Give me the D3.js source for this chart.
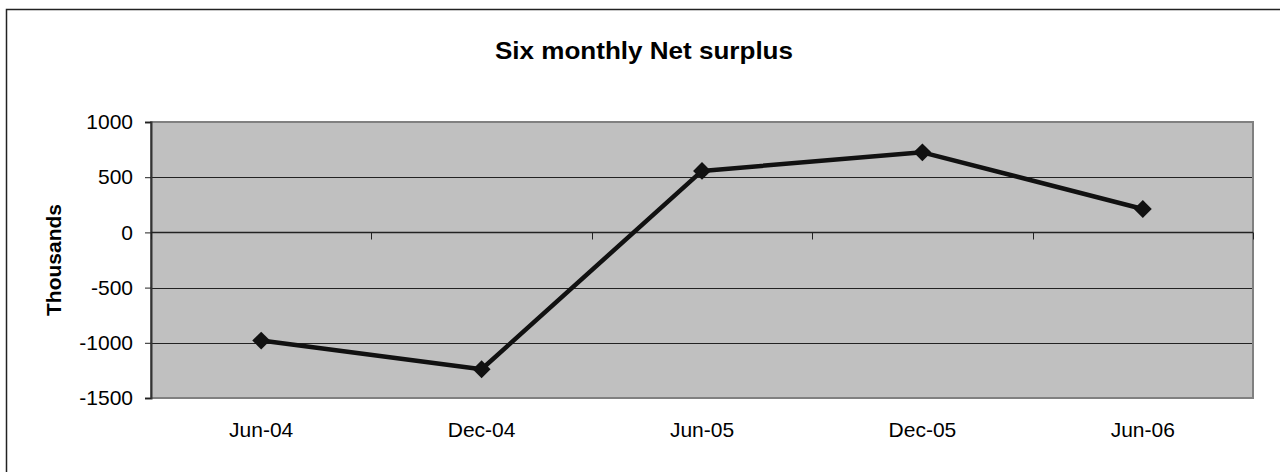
<!DOCTYPE html>
<html>
<head>
<meta charset="utf-8">
<script src="https://cdn.jsdelivr.net/npm/d3@7"></script>
<style>
  body { margin: 0; background: #fff; }
  svg { display: block; font-family: Arial, "Liberation Sans", sans-serif; }
</style>
</head>
<body>
<div id="chart"></div>
<script>
// Six monthly net surplus (thousands)
const periods = ['Jun-04', 'Dec-04', 'Jun-05', 'Dec-05', 'Jun-06'];
const surplus = [-980, -1240, 557, 725, 212];
const yTicks = [-1500, -1000, -500, 0, 500, 1000];

const width = 1280, height = 472;
const plot = { left: 151, top: 122, right: 1253, bottom: 398 };

const svg = d3.select('#chart')
    .append('svg')
    .attr('width', width)
    .attr('height', height);

// outer chart frame (runs off the right / bottom edge)
svg.append('rect')
    .attr('x', 6.5).attr('y', 9.5)
    .attr('width', 1290).attr('height', 480)
    .attr('fill', '#fff')
    .attr('stroke', '#222')
    .attr('stroke-width', 1.5);

const x = d3.scaleBand()
    .domain(periods)
    .range([plot.left, plot.right]);

const y = d3.scaleLinear()
    .domain([-1500, 1000])
    .range([plot.bottom, plot.top]);

// plot area
svg.append('rect')
    .attr('x', plot.left).attr('y', plot.top)
    .attr('width', plot.right - plot.left)
    .attr('height', plot.bottom - plot.top)
    .attr('fill', '#c0c0c0');

// gridlines
svg.append('g')
    .selectAll('line')
    .data(yTicks.filter(t => t > -1500 && t < 1000))
    .enter()
    .append('line')
    .attr('x1', plot.left).attr('x2', plot.right)
    .attr('y1', d => Math.round(y(d)) + 0.5)
    .attr('y2', d => Math.round(y(d)) + 0.5)
    .attr('stroke', '#222')
    .attr('stroke-width', 1);

// plot border
svg.append('rect')
    .attr('x', plot.left).attr('y', plot.top)
    .attr('width', plot.right - plot.left)
    .attr('height', plot.bottom - plot.top)
    .attr('fill', 'none')
    .attr('stroke', '#808080')
    .attr('stroke-width', 2);

// y axis
const yAxis = d3.axisLeft(y)
    .tickValues(yTicks)
    .tickSize(6)
    .tickPadding(12)
    .tickFormat(d => String(d));

const yG = svg.append('g')
    .attr('transform', `translate(${plot.left},0)`)
    .call(yAxis);
yG.select('.domain').attr('stroke', '#333').attr('stroke-width', 2);
yG.selectAll('.tick line').attr('stroke', '#222');
yG.selectAll('.tick text')
    .attr('font-size', 21)
    .attr('fill', '#000')
    .attr('font-family', 'Arial, "Liberation Sans", sans-serif');

// x axis at zero, ticks between categories
const zeroY = Math.round(y(0)) + 0.5;
svg.append('line')
    .attr('x1', plot.left).attr('x2', plot.right)
    .attr('y1', zeroY).attr('y2', zeroY)
    .attr('stroke', '#222').attr('stroke-width', 1.5);

const boundaries = periods.map(p => x(p)).concat([x.range()[1]]);
svg.append('g')
    .selectAll('line')
    .data(boundaries)
    .enter()
    .append('line')
    .attr('x1', d => Math.round(d) + 0.5)
    .attr('x2', d => Math.round(d) + 0.5)
    .attr('y1', zeroY).attr('y2', zeroY + 7)
    .attr('stroke', '#222');

svg.append('g')
    .selectAll('text')
    .data(periods)
    .enter()
    .append('text')
    .attr('x', d => x(d) + x.bandwidth() / 2)
    .attr('y', 437)
    .attr('text-anchor', 'middle')
    .attr('font-size', 21)
    .text(d => d);

// line and markers
const line = d3.line()
    .x((d, i) => x(periods[i]) + x.bandwidth() / 2)
    .y(d => y(d));

svg.append('path')
    .datum(surplus)
    .attr('d', line)
    .attr('fill', 'none')
    .attr('stroke', '#111')
    .attr('stroke-width', 4.5)
    .attr('stroke-linejoin', 'round');

svg.append('g')
    .selectAll('path')
    .data(surplus)
    .enter()
    .append('path')
    .attr('d', d3.symbol().type(d3.symbolSquare).size(160))
    .attr('transform', (d, i) =>
        `translate(${x(periods[i]) + x.bandwidth() / 2},${y(d)}) rotate(45)`)
    .attr('fill', '#111');

// titles
svg.append('text')
    .attr('x', 644)
    .attr('y', 59)
    .attr('text-anchor', 'middle')
    .attr('font-size', 24)
    .attr('font-weight', 'bold')
    .attr('textLength', 298)
    .attr('lengthAdjust', 'spacingAndGlyphs')
    .text('Six monthly Net surplus');

svg.append('text')
    .attr('transform', `translate(61,${(plot.top + plot.bottom) / 2}) rotate(-90)`)
    .attr('text-anchor', 'middle')
    .attr('font-size', 21)
    .attr('font-weight', 'bold')
    .text('Thousands');
</script>
</body>
</html>
